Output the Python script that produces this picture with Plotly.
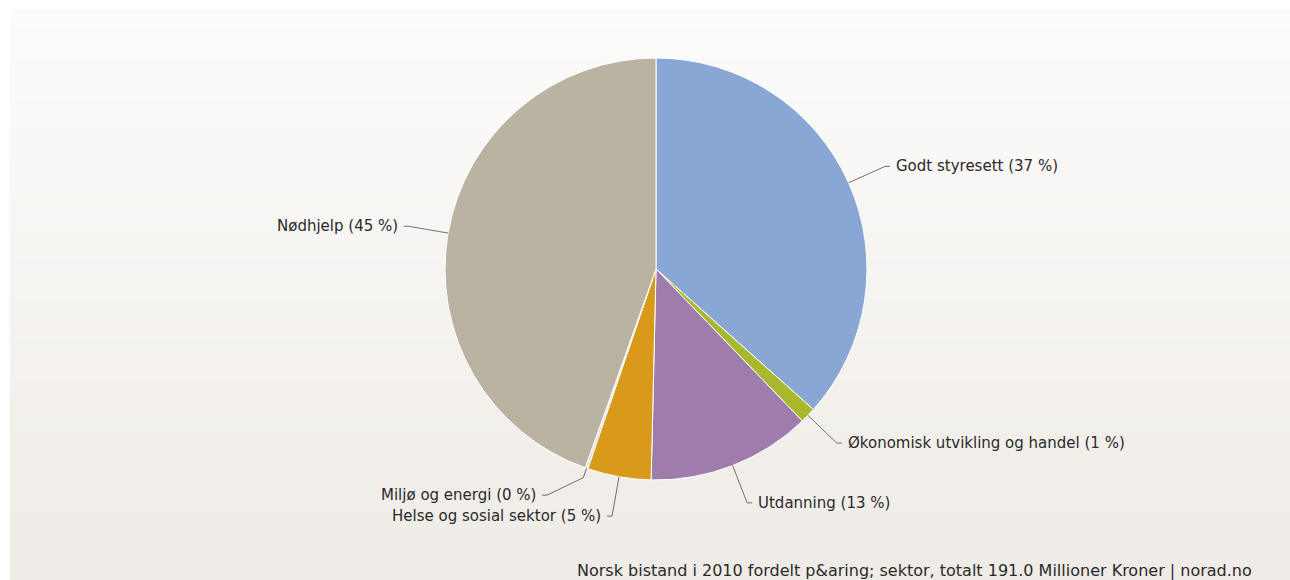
import math
import plotly.graph_objects as go

# ---- data (millioner kroner, lest av figuren) ----
categories = ["Godt styresett", "Økonomisk utvikling og handel", "Utdanning",
              "Helse og sosial sektor", "Miljø og energi", "Nødhjelp"]
values = [69.9, 2.3, 24.0, 9.3, 0.4, 85.1]
colors = ["#88a7d5", "#a9b92d", "#9e7cab", "#d99a1c", "#e4dfd6", "#bbb3a2"]
credit_tpl = "Norsk bistand i 2010 fordelt p&amp;aring; sektor, totalt {total:.1f} Millioner Kroner | norad.no"

# ---- layout geometry (window pixels) ----
W, H = 1290, 580
cx, cy, r = 656, 269, 211
dist, conn_off, pad, gap = 40, 10, 5, 21


def px(x):
    return x / W


def py(y):
    return 1 - y / H


total = sum(values)
pct = [round(v / total * 100) for v in values]

fig = go.Figure()
fig.add_trace(go.Pie(
    labels=categories, values=values, sort=False, direction="clockwise", rotation=0,
    marker=dict(colors=colors, line=dict(color="#ffffff", width=1)),
    textinfo="none", hoverinfo="label+percent", showlegend=False,
    domain=dict(x=[px(cx - r), px(cx + r)], y=[py(cy + r), py(cy - r)]),
))

# label positions derived from the slice angles
info = []
cum = 0.0
for cat, v, p in zip(categories, values, pct):
    mid = (cum + v / 2) / total * 2 * math.pi
    cum += v
    sx, sy = math.sin(mid), -math.cos(mid)
    info.append(dict(text=f"{cat} ({p} %)", left=sx < 0,
                     edge=(cx + r * sx, cy + r * sy),
                     brk=(cx + (r + conn_off) * sx, cy + (r + conn_off) * sy),
                     y=cy + (r + dist) * sy))

for side in (True, False):
    items = sorted([d for d in info if d["left"] == side], key=lambda d: d["y"], reverse=True)
    for a, b in zip(items, items[1:]):
        if a["y"] - b["y"] < gap:
            b["y"] = a["y"] - gap

R = r + dist
shapes = []
# background gradient (bands)
n = 57
top_c, bot_c = (252, 252, 251), (239, 235, 230)
for i in range(n):
    t = i / (n - 1)
    c = tuple(round(top_c[k] + (bot_c[k] - top_c[k]) * t) for k in range(3))
    y0 = 9 + (580 - 9) * i / n
    y1 = 9 + (580 - 9) * (i + 1) / n
    shapes.append(dict(type="rect", xref="paper", yref="paper", layer="below",
                       x0=px(10), x1=1, y0=py(y1) - 0.001, y1=py(y0),
                       line=dict(width=0), fillcolor="rgb(%d,%d,%d)" % c))

annotations = []
for d in info:
    ly = d["y"]
    dx = math.sqrt(max(R * R - (ly - cy) ** 2, 0))
    lx = cx - dx if d["left"] else cx + dx
    sgn = -1 if d["left"] else 1
    pts = [d["edge"], d["brk"], (lx, ly), (lx + sgn * pad, ly)]
    path = "M " + " L ".join(f"{px(x):.5f},{py(y):.5f}" for x, y in pts)
    shapes.append(dict(type="path", xref="paper", yref="paper", path=path,
                       line=dict(color="#707070", width=1)))
    annotations.append(dict(x=px(lx + sgn * 9), y=py(ly), xref="paper", yref="paper",
                            text=d["text"], showarrow=False,
                            xanchor="right" if d["left"] else "left", yanchor="middle",
                            font=dict(family="DejaVu Sans", size=15, color="#2a2a2a")))

annotations.append(dict(x=px(1254), y=py(570), xref="paper", yref="paper",
                        text=credit_tpl.format(total=total), showarrow=False,
                        xanchor="right", yanchor="middle",
                        font=dict(family="DejaVu Sans", size=16, color="#2a2a2a")))

fig.update_layout(width=W, height=H, margin=dict(l=0, r=0, t=0, b=0),
                  paper_bgcolor="#ffffff", plot_bgcolor="#ffffff",
                  shapes=shapes, annotations=annotations)
fig.write_html("out.html", config={"displayModeBar": False},
               post_script="document.body.style.margin='0';document.body.style.overflow='hidden';")
